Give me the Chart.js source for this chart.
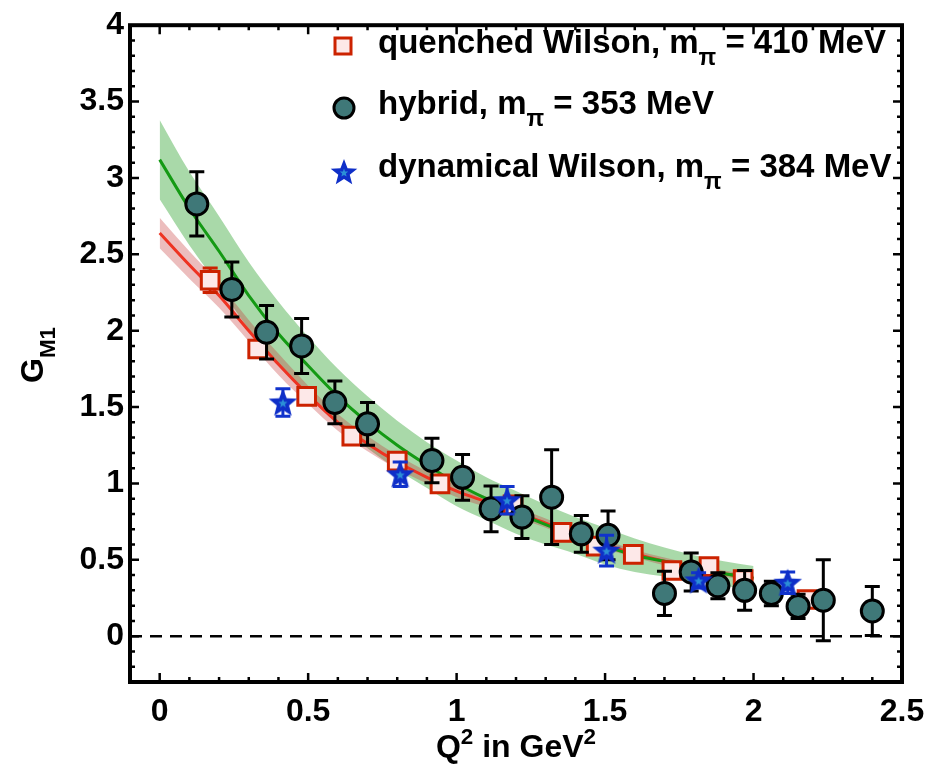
<!DOCTYPE html>
<html>
<head>
<meta charset="utf-8">
<script src="https://cdn.jsdelivr.net/npm/chart.js@4.4.0/dist/chart.umd.min.js"></script>
<style>
  html, body { margin: 0; padding: 0; background: #fff; }
  #wrap { width: 943px; height: 764px; }
</style>
</head>
<body>
<div id="wrap"><canvas id="gm1"></canvas></div>
<script>
// ---- values ----
const xTicks = [0, 0.5, 1, 1.5, 2, 2.5];
const yTicks = [0, 0.5, 1, 1.5, 2, 2.5, 3, 3.5, 4];

// quenched Wilson, m_pi = 410 MeV
const quenchedQ2  = [0.17, 0.33, 0.495, 0.647, 0.80, 0.944, 1.19, 1.355, 1.47, 1.595, 1.725, 1.85, 1.965, 2.18];
const quenchedG   = [2.33, 1.88, 1.57, 1.31, 1.146, 0.997, 0.86, 0.68, 0.59, 0.535, 0.43, 0.455, 0.37, 0.24];
const quenchedErr = [0.08, 0.04, 0.04, 0.04, 0.04, 0.03, 0.03, 0.03, 0.03, 0.03, 0.03, 0.03, 0.03, 0.03];

// hybrid, m_pi = 353 MeV
const hybridQ2  = [0.125, 0.243, 0.36, 0.478, 0.59, 0.70, 0.917, 1.02, 1.116, 1.22, 1.32, 1.42, 1.51, 1.70, 1.79, 1.88, 1.97, 2.06, 2.15, 2.235, 2.40];
const hybridG   = [2.83, 2.27, 1.99, 1.90, 1.53, 1.39, 1.15, 1.04, 0.834, 0.78, 0.91, 0.67, 0.66, 0.28, 0.42, 0.33, 0.30, 0.28, 0.195, 0.235, 0.165];
const hybridErr = [0.21, 0.18, 0.175, 0.18, 0.14, 0.14, 0.145, 0.15, 0.15, 0.14, 0.31, 0.12, 0.16, 0.145, 0.125, 0.085, 0.13, 0.08, 0.08, 0.265, 0.16];

// dynamical Wilson, m_pi = 384 MeV
const dynQ2  = [0.415, 0.81, 1.17, 1.505, 1.815, 2.115];
const dynG   = [1.53, 1.06, 0.89, 0.56, 0.365, 0.35];
const dynErr = [0.09, 0.08, 0.09, 0.10, 0.05, 0.07];

// fit curves and error bands
const fitQ2    = [0, 0.1, 0.2, 0.3, 0.4, 0.5, 0.6, 0.7, 0.8, 0.9, 1.0, 1.1, 1.2, 1.3, 1.4, 1.5, 1.6, 1.7, 1.8, 1.9, 2.0];
const greenFit = [3.12, 2.80, 2.52, 2.23, 1.98, 1.77, 1.57, 1.40, 1.25, 1.12, 1.00, 0.90, 0.81, 0.73, 0.66, 0.59, 0.53, 0.49, 0.45, 0.41, 0.38];
const greenUp  = [3.38, 3.04, 2.75, 2.45, 2.19, 1.96, 1.75, 1.57, 1.41, 1.27, 1.15, 1.04, 0.95, 0.86, 0.78, 0.71, 0.64, 0.58, 0.53, 0.49, 0.46];
const greenLo  = [2.86, 2.56, 2.29, 2.01, 1.77, 1.58, 1.39, 1.23, 1.09, 0.97, 0.85, 0.76, 0.67, 0.60, 0.54, 0.47, 0.42, 0.39, 0.36, 0.33, 0.30];
const redFit   = [2.64, 2.43, 2.23, 2.00, 1.78, 1.58, 1.40, 1.26, 1.14, 1.04, 0.95, 0.88, 0.81, 0.74, 0.66, 0.60, 0.54, 0.49, 0.45, 0.41, 0.38];
const redUp    = [2.74, 2.52, 2.31, 2.07, 1.85, 1.64, 1.455, 1.31, 1.185, 1.08, 0.99, 0.915, 0.845, 0.77, 0.69, 0.63, 0.565, 0.515, 0.47, 0.43, 0.40];
const redLo    = [2.54, 2.34, 2.15, 1.93, 1.71, 1.52, 1.345, 1.21, 1.095, 1.00, 0.91, 0.845, 0.775, 0.71, 0.63, 0.57, 0.515, 0.465, 0.43, 0.39, 0.36];

const zeroQ2 = [-0.1, 2.5];
const zeroG  = [0, 0];

const FONT = '"Liberation Sans", Arial, sans-serif';

const pts = (xs, ys) => xs.map((x, i) => ({ x, y: ys[i] }));

// filled five-point star used as point style
function starPath(ctx, cx, cy, R, r) {
  ctx.beginPath();
  for (let k = 0; k < 10; k++) {
    const rad = k % 2 ? r : R;
    const a = -Math.PI / 2 + k * Math.PI / 5;
    ctx.lineTo(cx + rad * Math.cos(a), cy + rad * Math.sin(a));
  }
  ctx.closePath();
}
function makeStar(size) {
  const c = document.createElement('canvas');
  c.width = c.height = size;
  const g = c.getContext('2d');
  const m = size / 2;
  starPath(g, m, m + 1, m - 1, (m - 1) * 0.43);
  g.fillStyle = '#0f2fc8';
  g.fill();
  starPath(g, m, m + 1, (m - 1) * 0.32, (m - 1) * 0.14);
  g.fillStyle = '#2b8fd6';
  g.fill();
  return c;
}
const starImg = makeStar(32);
const starLegend = makeStar(30);

const errorBars = {
  id: 'errorBars',
  beforeDatasetDraw(chart, args) {
    const ds = chart.data.datasets[args.index];
    if (!ds.errors) return;
    const xs = chart.scales.x, ys = chart.scales.y;
    const ctx = chart.ctx;
    ctx.save();
    ctx.strokeStyle = ds.errorColor;
    ctx.lineWidth = 3;
    ds.data.forEach((p, i) => {
      const e = ds.errors[i];
      const px = xs.getPixelForValue(p.x);
      const top = ys.getPixelForValue(p.y + e);
      const bot = ys.getPixelForValue(p.y - e);
      ctx.beginPath();
      ctx.moveTo(px, top); ctx.lineTo(px, bot);
      ctx.moveTo(px - 7.5, top); ctx.lineTo(px + 7.5, top);
      ctx.moveTo(px - 7.5, bot); ctx.lineTo(px + 7.5, bot);
      ctx.stroke();
    });
    ctx.restore();
  }
};

function richWidth(ctx, parts, size) {
  let w = 0;
  for (const p of parts) {
    ctx.font = 'bold ' + ((p.sub || p.sup) ? size * 0.7 : size) + 'px ' + FONT;
    w += ctx.measureText(p.t).width;
  }
  return w;
}
function richText(ctx, parts, x, y, size) {
  let cx = x;
  for (const p of parts) {
    ctx.font = 'bold ' + ((p.sub || p.sup) ? size * 0.7 : size) + 'px ' + FONT;
    const dy = p.sub ? size * 0.36 : p.sup ? -size * 0.42 : 0;
    ctx.fillText(p.t, cx, y + dy);
    cx += ctx.measureText(p.t).width;
  }
}

const frameAndText = {
  id: 'frameAndText',
  afterDatasetsDraw(chart) {
    const { ctx, chartArea: a } = chart;
    const xs = chart.scales.x, ys = chart.scales.y;
    ctx.save();
    ctx.strokeStyle = '#000';
    // inner ticks on all four sides
    ctx.lineWidth = 2.5;
    for (let i = -1; i <= 25; i++) {
      const px = xs.getPixelForValue(i / 10);
      if (px < a.left + 3 || px > a.right - 3) continue;
      const len = i % 5 === 0 ? 9 : 5;
      ctx.beginPath();
      ctx.moveTo(px, a.bottom); ctx.lineTo(px, a.bottom - len);
      ctx.moveTo(px, a.top); ctx.lineTo(px, a.top + len);
      ctx.stroke();
    }
    for (let i = -3; i <= 40; i++) {
      const py = ys.getPixelForValue(i / 10);
      if (py < a.top + 3 || py > a.bottom - 3) continue;
      const len = i % 5 === 0 ? 9 : 5;
      ctx.beginPath();
      ctx.moveTo(a.left, py); ctx.lineTo(a.left + len, py);
      ctx.moveTo(a.right, py); ctx.lineTo(a.right - len, py);
      ctx.stroke();
    }
    ctx.lineWidth = 4;
    ctx.strokeRect(a.left, a.top, a.right - a.left, a.bottom - a.top);

    // legend
    ctx.fillStyle = '#000';
    ctx.textBaseline = 'alphabetic';
    const rows = [
      [{ t: 'quenched Wilson, m' }, { t: 'π', sub: true }, { t: ' = 410 MeV' }],
      [{ t: 'hybrid, m' }, { t: 'π', sub: true }, { t: ' = 353 MeV' }],
      [{ t: 'dynamical Wilson, m' }, { t: 'π', sub: true }, { t: ' = 384 MeV' }]
    ];
    const base = [53, 114, 177];
    rows.forEach((r, i) => richText(ctx, r, 378, base[i], 33));
    // legend markers
    ctx.lineWidth = 3;
    ctx.fillStyle = '#fde8e8';
    ctx.strokeStyle = '#cc2200';
    ctx.fillRect(335, 38, 16, 16);
    ctx.strokeRect(335, 38, 16, 16);
    ctx.beginPath();
    ctx.arc(344, 108, 10, 0, Math.PI * 2);
    ctx.fillStyle = '#3f7878';
    ctx.fill();
    ctx.strokeStyle = '#000';
    ctx.stroke();
    ctx.drawImage(starLegend, 344 - 15, 172 - 15);

    // axis titles
    ctx.fillStyle = '#000';
    const xt = [{ t: 'Q' }, { t: '2', sup: true }, { t: ' in GeV' }, { t: '2', sup: true }];
    const xw = richWidth(ctx, xt, 32);
    richText(ctx, xt, (a.left + a.right) / 2 - xw / 2, 757, 32);

    const yt = [{ t: 'G' }, { t: 'M1', sub: true }];
    const yw = richWidth(ctx, yt, 32);
    ctx.translate(43, 355);
    ctx.rotate(-Math.PI / 2);
    richText(ctx, yt, -yw / 2, 0, 32);
    ctx.restore();
  }
};

const datasets = [
  // 0,1 green band
  { data: pts(fitQ2, greenLo), borderWidth: 0, pointRadius: 0, fill: false, order: 12 },
  { data: pts(fitQ2, greenUp), borderWidth: 0, pointRadius: 0, fill: '-1', backgroundColor: 'rgba(64,171,64,0.45)', order: 11 },
  // 2,3 red band
  { data: pts(fitQ2, redLo), borderWidth: 0, pointRadius: 0, fill: false, order: 10 },
  { data: pts(fitQ2, redUp), borderWidth: 0, pointRadius: 0, fill: '-1', backgroundColor: 'rgba(198,55,55,0.33)', order: 9 },
  // zero line
  { data: pts(zeroQ2, zeroG), borderColor: '#000', borderWidth: 2.5, borderDash: [12, 8], pointRadius: 0, order: 13 },
  // fits
  { data: pts(fitQ2, redFit), borderColor: '#ee3322', borderWidth: 3, pointRadius: 0, order: 8 },
  { data: pts(fitQ2, greenFit), borderColor: '#149a14', borderWidth: 3, pointRadius: 0, order: 7 },
  // lattice points
  { data: pts(quenchedQ2, quenchedG), errors: quenchedErr, errorColor: '#cc2200', showLine: false,
    pointStyle: 'rect', pointRadius: 12.5, pointBorderWidth: 3, pointBackgroundColor: '#fde8e8', pointBorderColor: '#cc2200', order: 3 },
  { data: pts(hybridQ2, hybridG), errors: hybridErr, errorColor: '#000', showLine: false,
    pointStyle: 'circle', pointRadius: 11, pointBorderWidth: 3, pointBackgroundColor: '#3f7878', pointBorderColor: '#000', order: 2 },
  { data: pts(dynQ2, dynG), errors: dynErr, errorColor: '#1133cc', showLine: false,
    pointStyle: starImg, pointRadius: 14, order: 1 }
];

new Chart(document.getElementById('gm1'), {
  type: 'line',
  data: { datasets },
  options: {
    responsive: true,
    maintainAspectRatio: false,
    animation: false,
    layout: { padding: { top: 21, right: 41, left: 0, bottom: 0 } },
    elements: { line: { tension: 0.4, cubicInterpolationMode: 'monotone' } },
    plugins: {
      legend: { display: false },
      tooltip: { enabled: false }
    },
    scales: {
      x: {
        type: 'linear', min: -0.1, max: 2.5,
        grid: { display: false, drawTicks: false },
        border: { display: false },
        afterBuildTicks: s => { s.ticks = xTicks.map(v => ({ value: v })); },
        afterFit: s => { s.height = 82; },
        ticks: {
          color: '#000', padding: 11, maxRotation: 0, autoSkip: false,
          font: { family: 'Liberation Sans', size: 32, weight: 'bold' },
          callback: v => String(v)
        }
      },
      y: {
        type: 'linear', min: -0.3, max: 4,
        grid: { display: false, drawTicks: false },
        border: { display: false },
        afterBuildTicks: s => { s.ticks = yTicks.map(v => ({ value: v })); },
        afterFit: s => { s.width = 130; },
        ticks: {
          color: '#000', padding: 6,
          font: { family: 'Liberation Sans', size: 32, weight: 'bold' },
          callback: v => String(v)
        }
      }
    }
  },
  plugins: [errorBars, frameAndText]
});
</script>
</body>
</html>
